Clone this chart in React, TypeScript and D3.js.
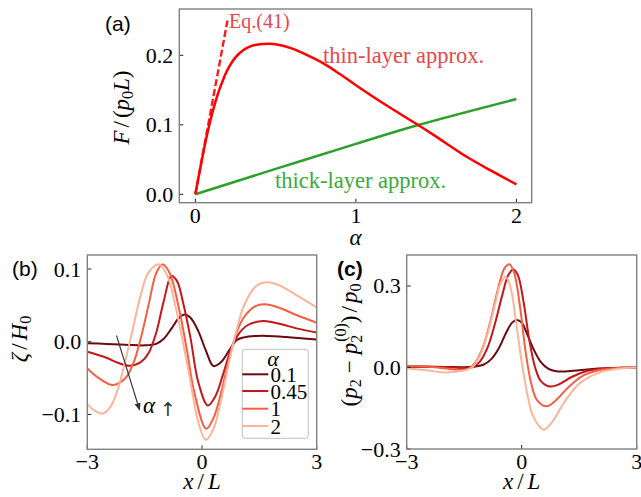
import React from 'react';
import * as d3 from 'd3';

// ---------- Panel (a) data ----------
const alphaThin = [0, 0.02, 0.04, 0.06, 0.08, 0.1, 0.125, 0.15, 0.175, 0.2, 0.25, 0.3, 0.35, 0.4, 0.454, 0.5, 0.6, 0.67, 0.8, 0.9, 1.0, 1.17, 1.388, 1.5, 1.69, 1.85, 2.0];
const forceThin = [0, 0.025, 0.049, 0.072, 0.093, 0.112, 0.133, 0.151, 0.166, 0.179, 0.197, 0.2075, 0.2135, 0.216, 0.2165, 0.216, 0.21, 0.203, 0.188, 0.173, 0.157, 0.131, 0.0996, 0.083, 0.054, 0.033, 0.0144];
const alphaThick = [0, 0.5, 1, 1.388, 2];
const forceThick = [0, 0.0365, 0.0725, 0.0996, 0.137];
const alphaEq = [0, 0.2];
const forceEq = [0, 0.25];
const aTicksX = [0, 1, 2];
const aTickLabelsX = ['0', '1', '2'];
const aTicksY = [0, 0.1, 0.2];
const aTickLabelsY = ['0.0', '0.1', '0.2'];

// ---------- Panel (b) data: zeta/H0 ----------
const legendAlphas = ['0.1', '0.45', '1', '2'];
const bX01 = [-3, -2.5, -2, -1.5, -1.2, -1.0, -0.8, -0.6, -0.45, -0.3, -0.1, 0.1, 0.3, 0.5, 0.7, 0.9, 1.1, 1.4, 1.7, 2.2, 3];
const bY01 = [-0.002, -0.003, -0.004, -0.005, -0.003, 0.004, 0.018, 0.033, 0.0375, 0.033, 0.015, -0.012, -0.0335, -0.028, -0.013, 0.002, 0.006, 0.0078, 0.008, 0.0065, 0.003];
const bX045 = [-3, -2.5, -2.2, -1.9, -1.6, -1.4, -1.2, -1.0, -0.8, -0.65, -0.5, -0.3, -0.1, 0.15, 0.35, 0.55, 0.75, 0.95, 1.2, 1.6, 2.0, 2.5, 3];
const bY045 = [-0.0138, -0.022, -0.029, -0.033, -0.028, -0.016, 0.012, 0.056, 0.0905, 0.083, 0.055, 0.005, -0.055, -0.0876, -0.075, -0.045, -0.012, 0.01, 0.023, 0.0285, 0.025, 0.018, 0.0128];
const bX1 = [-3, -2.7, -2.33, -2.0, -1.8, -1.6, -1.4, -1.2, -1.04, -0.85, -0.6, -0.4, -0.2, 0.11, 0.3, 0.5, 0.7, 0.9, 1.1, 1.4, 1.64, 2.0, 2.5, 3];
const bY1 = [-0.0367, -0.05, -0.0596, -0.05, -0.03, 0.005, 0.05, 0.094, 0.1064, 0.095, 0.045, -0.01, -0.07, -0.1197, -0.105, -0.07, -0.025, 0.012, 0.034, 0.049, 0.0514, 0.047, 0.036, 0.026];
const bX2 = [-3, -2.8, -2.59, -2.4, -2.2, -2.0, -1.8, -1.6, -1.4, -1.125, -0.9, -0.7, -0.5, -0.3, -0.1, 0.1, 0.3, 0.5, 0.7, 0.9, 1.1, 1.4, 1.68, 2.0, 2.5, 3];
const bY2 = [-0.0858, -0.095, -0.0986, -0.09, -0.065, -0.025, 0.02, 0.065, 0.095, 0.1064, 0.09, 0.05, 0.0, -0.055, -0.11, -0.1353, -0.12, -0.08, -0.03, 0.015, 0.05, 0.076, 0.0817, 0.078, 0.063, 0.047];

// ---------- Panel (c) data: (p2 - p2^(0))/p0 ----------
const cX01 = [-3, -2, -1.5, -1.2, -1.0, -0.8, -0.6, -0.4, -0.25, -0.13, 0, 0.15, 0.3, 0.5, 0.7, 0.9, 1.1, 1.5, 2, 3];
const cY01 = [0.003, 0.002, 0.001, 0.004, 0.01, 0.03, 0.07, 0.13, 0.165, 0.175, 0.165, 0.12, 0.07, 0.02, -0.005, -0.014, -0.015, -0.01, -0.004, 0];
const cX045 = [-3, -2, -1.6, -1.3, -1.1, -0.9, -0.7, -0.5, -0.35, -0.22, -0.1, 0.05, 0.2, 0.35, 0.5, 0.74, 1.0, 1.3, 1.7, 2.2, 3];
const cY045 = [0.005, 0.002, -0.002, 0.0, 0.02, 0.07, 0.16, 0.27, 0.34, 0.361, 0.34, 0.24, 0.1, 0.0, -0.05, -0.07, -0.06, -0.035, -0.013, -0.003, 0];
const cX1 = [-3, -2.2, -1.7, -1.4, -1.2, -1.0, -0.8, -0.6, -0.45, -0.32, -0.2, -0.05, 0.1, 0.25, 0.4, 0.65, 0.9, 1.2, 1.6, 2.0, 2.5, 3];
const cY1 = [0.006, 0.0, -0.008, -0.005, 0.02, 0.08, 0.18, 0.3, 0.365, 0.38, 0.35, 0.23, 0.06, -0.06, -0.12, -0.143, -0.12, -0.075, -0.03, -0.01, -0.002, 0];
const cX2 = [-3, -2.5, -2.0, -1.6, -1.3, -1.1, -0.9, -0.7, -0.55, -0.42, -0.3, -0.15, 0.0, 0.15, 0.3, 0.57, 0.8, 1.1, 1.5, 2.0, 2.5, 3];
const cY2 = [-0.003, -0.01, -0.018, -0.013, 0.0, 0.04, 0.12, 0.23, 0.31, 0.334, 0.3, 0.17, 0.02, -0.1, -0.18, -0.229, -0.2, -0.13, -0.06, -0.02, -0.005, 0];

const xTicksBC = [-3, 0, 3];
const xTickLabelsBC = ['\u22123', '0', '3'];
const bTicksY = [-0.1, 0, 0.1];
const bTickLabelsY = ['\u22120.1', '0.0', '0.1'];
const cTicksY = [-0.3, 0, 0.3];
const cTickLabelsY = ['\u22120.3', '0.0', '0.3'];

const seriesColors = ['#6a0a10', '#c4171c', '#f65f42', '#fcb49a'];

const SERIF = "'Liberation Serif', 'DejaVu Serif', serif";
const SANS = "'Liberation Sans', Arial, sans-serif";
const FS = 22;
const LFS = 23;

type Box = { left: number; right: number; top: number; bottom: number };

function zip(xs: number[], ys: number[]): [number, number][] {
  return xs.map((x, i) => [x, ys[i]]);
}

function Frame({ box, x, y, xt, xl, yt, yl }: { box: Box; x: any; y: any; xt: number[]; xl: string[]; yt: number[]; yl: string[] }) {
  return (
    <g>
      {xt.map((t, i) => (
        <g key={'x' + i}>
          <line x1={x(t)} x2={x(t)} y1={box.bottom} y2={box.bottom - 4} stroke="#222" strokeWidth={1} />
          <text x={x(t)} y={box.bottom + 20} textAnchor="middle" fontFamily={SERIF} fontSize={FS}>{xl[i]}</text>
        </g>
      ))}
      {yt.map((t, i) => (
        <g key={'y' + i}>
          <line x1={box.left} x2={box.left + 4} y1={y(t)} y2={y(t)} stroke="#222" strokeWidth={1} />
          <text x={box.left - 6} y={y(t) + 7.5} textAnchor="end" fontFamily={SERIF} fontSize={FS}>{yl[i]}</text>
        </g>
      ))}
      <rect x={box.left} y={box.top} width={box.right - box.left} height={box.bottom - box.top} fill="none" stroke="#808080" strokeWidth={1.4} />
    </g>
  );
}

export default function App() {
  // Panel (a)
  const boxA: Box = { left: 179.3, right: 531.7, top: 9, bottom: 202.7 };
  const xA = d3.scaleLinear().domain([-0.1, 2.095]).range([boxA.left, boxA.right]);
  const yA = d3.scaleLinear().domain([-0.0121, 0.2666]).range([boxA.bottom, boxA.top]);
  const lineA = d3.line<[number, number]>().x(d => xA(d[0])).y(d => yA(d[1])).curve(d3.curveCatmullRom.alpha(0.5));

  // Panel (b)
  const boxB: Box = { left: 87.3, right: 316.7, top: 255, bottom: 449.3 };
  const xB = d3.scaleLinear().domain([-3, 3]).range([boxB.left, boxB.right]);
  const yB = d3.scaleLinear().domain([-0.148, 0.1193]).range([boxB.bottom, boxB.top]);
  const lineB = d3.line<[number, number]>().x(d => xB(d[0])).y(d => yB(d[1])).curve(d3.curveCatmullRom.alpha(0.5));
  const bSeries = [zip(bX01, bY01), zip(bX045, bY045), zip(bX1, bY1), zip(bX2, bY2)];

  // Panel (c)
  const boxC: Box = { left: 406.7, right: 636.7, top: 255, bottom: 449 };
  const xC = d3.scaleLinear().domain([-3, 3]).range([boxC.left, boxC.right]);
  const yC = d3.scaleLinear().domain([-0.3, 0.414]).range([boxC.bottom, boxC.top]);
  const lineC = d3.line<[number, number]>().x(d => xC(d[0])).y(d => yC(d[1])).curve(d3.curveCatmullRom.alpha(0.5));
  const cSeries = [zip(cX01, cY01), zip(cX045, cY045), zip(cX1, cY1), zip(cX2, cY2)];

  const legY = [374.3, 391, 408.7, 426];

  return (
    <svg width={641} height={497} style={{ position: 'absolute', left: 0, top: 0, background: '#fff' }}>
      <defs>
        <clipPath id="clipA"><rect x={boxA.left} y={boxA.top} width={boxA.right - boxA.left} height={boxA.bottom - boxA.top} /></clipPath>
        <clipPath id="clipB"><rect x={boxB.left} y={boxB.top} width={boxB.right - boxB.left} height={boxB.bottom - boxB.top} /></clipPath>
        <clipPath id="clipC"><rect x={boxC.left} y={boxC.top} width={boxC.right - boxC.left} height={boxC.bottom - boxC.top} /></clipPath>
        <marker id="arrowHead" viewBox="0 0 10 10" refX="9" refY="5" markerWidth="7" markerHeight="7" orient="auto">
          <path d="M0,1 L10,5 L0,9 z" fill="#333" />
        </marker>
      </defs>

      {/* ---------------- Panel (a) ---------------- */}
      <g clipPath="url(#clipA)">
        <path d={lineA(zip(alphaEq, forceEq)) || ''} fill="none" stroke="#ff1a1a" strokeWidth={2.4} strokeDasharray="7,3" />
        <path d={lineA(zip(alphaThick, forceThick)) || ''} fill="none" stroke="#2ca02c" strokeWidth={2.5} />
        <path d={lineA(zip(alphaThin, forceThin)) || ''} fill="none" stroke="#ff0000" strokeWidth={2.5} />
      </g>
      <Frame box={boxA} x={xA} y={yA} xt={aTicksX} xl={aTickLabelsX} yt={aTicksY} yl={aTickLabelsY} />
      <text x={229} y={28} fontFamily={SERIF} fontSize={20} fill="#e8474b">Eq.(41)</text>
      <text x={323} y={63} fontFamily={SERIF} fontSize={22.5} fill="#e8474b">thin-layer approx.</text>
      <text x={275} y={188} fontFamily={SERIF} fontSize={22.5} fill="#3aaa3a">thick-layer approx.</text>
      <text x={105} y={31} fontFamily={SANS} fontSize={21}>(a)</text>
      <text x={355.5} y={245} textAnchor="middle" fontFamily={SERIF} fontSize={LFS} fontStyle="italic">α</text>
      <text transform="translate(129,107.5) rotate(-90)" textAnchor="middle" fontFamily={SERIF} fontSize={LFS}>
        <tspan fontStyle="italic">F</tspan><tspan dx={3}>/</tspan><tspan dx={3}>(</tspan><tspan fontStyle="italic">p</tspan><tspan fontSize={16} dy={4}>0</tspan><tspan fontStyle="italic" dy={-4}>L</tspan><tspan>)</tspan>
      </text>

      {/* ---------------- Panel (b) ---------------- */}
      <g clipPath="url(#clipB)">
        {bSeries.map((s, i) => (
          <path key={i} d={lineB(s) || ''} fill="none" stroke={seriesColors[i]} strokeWidth={2} />
        ))}
      </g>
      <Frame box={boxB} x={xB} y={yB} xt={xTicksBC} xl={xTickLabelsBC} yt={bTicksY} yl={bTickLabelsY} />
      <line x1={116.5} y1={335.5} x2={139.6} y2={410} stroke="#333" strokeWidth={1.1} markerEnd="url(#arrowHead)" />
      <text x={143} y={413} fontFamily={SERIF} fontSize={LFS} fontStyle="italic">α</text>
      <text x={160} y={416} fontFamily="'DejaVu Sans', sans-serif" fontSize={19} fill="#333">↑</text>
      {/* legend */}
      <rect x={242.3} y={349.3} width={66} height={89} rx={3} ry={3} fill="#fff" fillOpacity={0.85} stroke="#bfbfbf" strokeWidth={1} />
      <text x={273} y={366} textAnchor="middle" fontFamily={SERIF} fontSize={FS} fontStyle="italic">α</text>
      {legendAlphas.map((a, i) => (
        <g key={a}>
          <line x1={242.3} x2={268.3} y1={legY[i]} y2={legY[i]} stroke={seriesColors[i]} strokeWidth={2} />
          <text x={270.5} y={legY[i] + 7.5} fontFamily={SERIF} fontSize={21}>{a}</text>
        </g>
      ))}
      <text x={12} y={276} fontFamily={SANS} fontSize={21}>(b)</text>
      <text x={xB(0)} y={489} textAnchor="middle" fontFamily={SERIF} fontSize={LFS}>
        <tspan fontStyle="italic">x</tspan><tspan dx={4}>/</tspan><tspan fontStyle="italic" dx={4}>L</tspan>
      </text>
      <text transform="translate(27,339) rotate(-90)" textAnchor="middle" fontFamily={SERIF} fontSize={LFS}>
        <tspan fontStyle="italic">ζ</tspan><tspan dx={3}>/</tspan><tspan fontStyle="italic" dx={3}>H</tspan><tspan fontSize={16} dy={4}>0</tspan>
      </text>

      {/* ---------------- Panel (c) ---------------- */}
      <g clipPath="url(#clipC)">
        {cSeries.map((s, i) => (
          <path key={i} d={lineC(s) || ''} fill="none" stroke={seriesColors[i]} strokeWidth={2} />
        ))}
      </g>
      <Frame box={boxC} x={xC} y={yC} xt={xTicksBC} xl={xTickLabelsBC} yt={cTicksY} yl={cTickLabelsY} />
      <text x={337} y={276} fontFamily={SANS} fontSize={21} fontWeight="bold">(c)</text>
      <text x={xC(0)} y={489} textAnchor="middle" fontFamily={SERIF} fontSize={LFS}>
        <tspan fontStyle="italic">x</tspan><tspan dx={4}>/</tspan><tspan fontStyle="italic" dx={4}>L</tspan>
      </text>
      <text transform="translate(357,345) rotate(-90)" textAnchor="middle" fontFamily={SERIF} fontSize={LFS}>
        <tspan>(</tspan><tspan fontStyle="italic">p</tspan><tspan fontSize={16} dy={4}>2</tspan><tspan dx={6} dy={-4}>{'\u2212'}</tspan><tspan fontStyle="italic" dx={6}>p</tspan><tspan fontSize={16} dy={5}>2</tspan><tspan fontSize={16} dx={-7} dy={-16}>(0)</tspan><tspan dy={11}>)</tspan><tspan dx={3}>/</tspan><tspan fontStyle="italic" dx={3}>p</tspan><tspan fontSize={16} dy={4}>0</tspan>
      </text>
    </svg>
  );
}
